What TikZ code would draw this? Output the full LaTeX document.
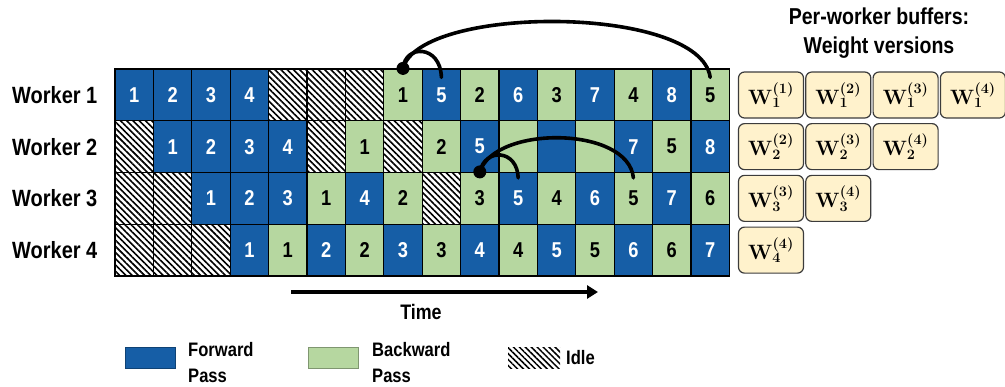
\documentclass[tikz,border=0pt]{standalone}
\usepackage[no-math]{fontspec}
\setmainfont{Liberation Sans}[FakeStretch=0.85]
\usetikzlibrary{calc,arrows.meta,patterns.meta}
\definecolor{fwblue}{RGB}{22,94,166}
\definecolor{bwgreen}{RGB}{182,215,160}
\definecolor{bufbg}{RGB}{255,242,204}
\definecolor{bufline}{RGB}{60,60,60}
\begin{document}
\begin{tikzpicture}[x=1pt,y=-1pt,
  cell/.style={draw=black, line width=1.2pt, minimum width=38.4pt, minimum height=51.75pt, inner sep=0pt, font=\fontsize{21.5}{24}\selectfont\bfseries},
  stF/.style={fill=fwblue, text=white},
  stB/.style={fill=bwgreen, text=black},
  stI/.style={pattern={Lines[angle=-45,distance=4.4pt,line width=1.6pt]}, pattern color=black},
  wlabel/.style={anchor=west, inner sep=0pt, font=\fontsize{23.5}{27}\selectfont\bfseries},
  buf/.style={draw=bufline, fill=bufbg, line width=1.2pt, rounded corners=6pt, minimum width=65pt, minimum height=46pt, inner sep=0pt, font=\fontsize{21}{24}\selectfont\boldmath},
  arc/.style={line width=3.6pt, line cap=round},
  legbox/.style={minimum width=50pt, minimum height=21pt, inner sep=0pt},
  legtext/.style={anchor=west, align=left, inner sep=0pt, font=\fontsize{19.5}{26}\selectfont\bfseries},
]
\useasboundingbox (0,0) rectangle (1005,386);

% cells
\foreach \t/\n [count=\k] in {F/1,F/2,F/3,F/4,I/{},I/{},I/{},B/1,F/5,B/2,F/6,B/3,F/7,B/4,F/8,B/5}
  \node[cell,st\t] (c-1-\k) at ({115+38.4*(\k-0.5)},{69+51.75*0.5}) {\n};
\foreach \t/\n [count=\k] in {I/{},F/1,F/2,F/3,F/4,I/{},B/1,I/{},B/2,F/5,B/{},F/{},B/{},F/7,B/5,F/8}
  \node[cell,st\t] (c-2-\k) at ({115+38.4*(\k-0.5)},{69+51.75*1.5}) {\n};
\foreach \t/\n [count=\k] in {I/{},I/{},F/1,F/2,F/3,B/1,F/4,B/2,I/{},B/3,F/5,B/4,F/6,B/5,F/7,B/6}
  \node[cell,st\t] (c-3-\k) at ({115+38.4*(\k-0.5)},{69+51.75*2.5}) {\n};
\foreach \t/\n [count=\k] in {I/{},I/{},I/{},F/1,B/1,F/2,B/2,F/3,B/3,F/4,B/4,F/5,B/5,F/6,B/6,F/7}
  \node[cell,st\t] (c-4-\k) at ({115+38.4*(\k-0.5)},{69+51.75*3.5}) {\n};

% worker labels
\foreach \r in {1,2,3,4}
  \node[wlabel] (w\r) at (12,{69+51.75*(\r-0.5)}) {Worker \r};

% buffers
\node[align=center, inner sep=0pt, font=\fontsize{23}{29}\selectfont\bfseries] (title) at (879,33) {Per-worker buffers:\\Weight versions};
\foreach \k in {1,2,3,4}
  \node[buf] (b1-\k) at ({771+67.3*(\k-1)},95) {$\mathbf{W}_1^{(\k)}$};
\foreach \k in {2,3,4}
  \node[buf] (b2-\k) at ({771+67.3*(\k-2)},{69+51.75*1.5}) {$\mathbf{W}_2^{(\k)}$};
\foreach \k in {3,4}
  \node[buf] (b3-\k) at ({771+67.3*(\k-3)},{69+51.75*2.5}) {$\mathbf{W}_3^{(\k)}$};
\node[buf] (b4-4) at (771,{69+51.75*3.5}) {$\mathbf{W}_4^{(4)}$};

% arcs
\coordinate (s1) at (c-1-8.north);
\coordinate (e1a) at ($(c-1-9.north)+(0,9)$);
\coordinate (e1b) at ($(c-1-16.north)+(0,9)$);
\draw[arc] (s1) .. controls +(2,-24) and +(-1,-33) .. (e1a);
\draw[arc] (s1) .. controls +(17,-64) and +(-10,-73) .. (e1b);
\fill (s1) circle (6.5pt);
\coordinate (s2) at (c-3-10.north);
\coordinate (e2a) at ($(c-3-11.north)+(0,6)$);
\coordinate (e2b) at ($(c-3-14.north)+(0,6)$);
\draw[arc] (s2) .. controls +(5,-24) and +(-1,-29) .. (e2a);
\draw[arc] (s2) .. controls +(15,-47) and +(-5,-52) .. (e2b);
\fill (s2) circle (6.5pt);

% time arrow
\coordinate (t0) at (291,292);
\coordinate (t1) at (598,292);
\draw[line width=3.6pt, -{Triangle[length=11pt,width=13pt]}] (t0) -- (t1);
\node[inner sep=0pt, font=\fontsize{21}{24}\selectfont\bfseries] (time) at (421,312) {Time};

% legend
\node[legbox, fill=fwblue, draw=fwblue!70!black, line width=0.8pt] (legF) at (150,357.5) {};
\node[legtext] (legFt) at (188,363) {Forward\\Pass};
\node[legbox, fill=bwgreen, draw=bwgreen!70!black, line width=0.8pt] (legB) at (333,357.5) {};
\node[legtext] (legBt) at (372,363) {Backward\\Pass};
\node[legbox, minimum width=52pt, pattern={Lines[angle=-45,distance=4.2pt,line width=1.5pt]}, pattern color=black] (legI) at (534,357.5) {};
\node[legtext] (legIt) at (566,358) {Idle};
\end{tikzpicture}
\end{document}
